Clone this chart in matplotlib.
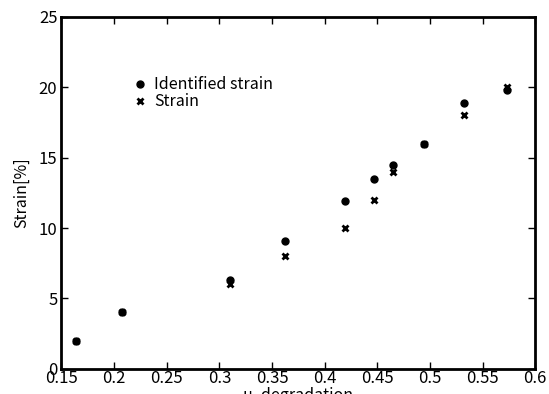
import matplotlib
matplotlib.use("Agg")
import matplotlib.pyplot as plt

plt.rcParams['font.family'] = ['Noto Sans CJK JP', 'DejaVu Sans']

mu_degradation = [0.164, 0.207, 0.310, 0.362, 0.419, 0.447, 0.465, 0.494, 0.532, 0.573]
identified_strain = [2.0, 4.0, 6.3, 9.05, 11.9, 13.45, 14.5, 16.0, 18.85, 19.8]
strain = [2.0, 4.0, 6.0, 8.0, 10.0, 12.0, 14.0, 16.0, 18.0, 20.0]

fig = plt.figure(figsize=(5.49, 3.94), dpi=100)
ax = fig.add_axes([0.112, 0.064, 0.863, 0.893])

ax.plot(mu_degradation, identified_strain, linestyle='none', marker='o',
        markersize=5, color='black', label='Identified strain')
ax.plot(mu_degradation, strain, linestyle='none', marker='x',
        markersize=5, markeredgewidth=2, color='black', label='Strain')

ax.set_xlim(0.15, 0.6)
ax.set_ylim(0, 25)
ax.set_xticks([0.15, 0.2, 0.25, 0.3, 0.35, 0.4, 0.45, 0.5, 0.55, 0.6])
ax.set_xticklabels(['0.15', '0.2', '0.25', '0.3', '0.35', '0.4', '0.45', '0.5', '0.55', '0.6'])
ax.set_yticks([0, 5, 10, 15, 20, 25])
ax.tick_params(direction='in', top=True, right=True, length=5, width=1,
               labelsize=12, pad=1)
ax.tick_params(axis='y', pad=3)
for s in ax.spines.values():
    s.set_linewidth(2)

ax.set_xlabel('μ_degradation', fontsize=11.5, labelpad=0)
ax.set_ylabel('Strain[%]', fontsize=11.5, labelpad=6)

ax.legend(loc='upper left', bbox_to_anchor=(0.135, 0.85), frameon=False,
          fontsize=11.5, handlelength=1, handletextpad=0.4, labelspacing=0.0,
          borderaxespad=0)

fig.savefig('out.png', dpi=100)
